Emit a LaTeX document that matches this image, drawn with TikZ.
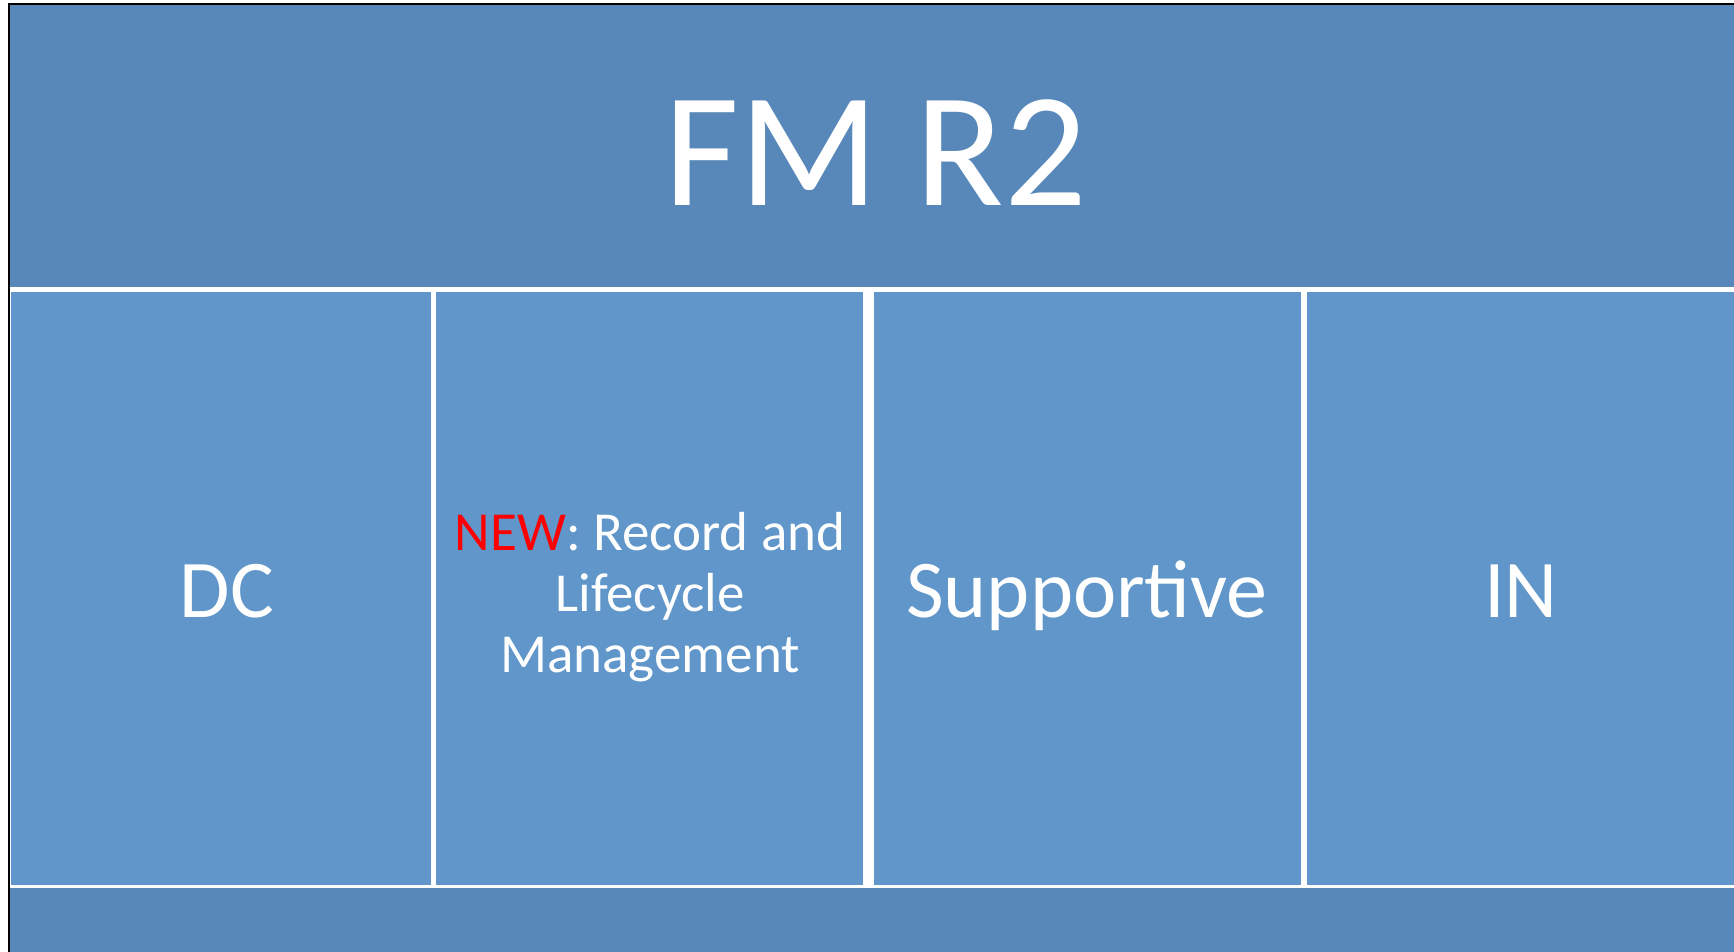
\documentclass[tikz,border=0pt]{standalone}
\usepackage{fontspec}
\setmainfont{Carlito}
\definecolor{topblue}{HTML}{5888B9}
\definecolor{cellblue}{HTML}{6096C9}
\definecolor{newred}{HTML}{FF0000}
\tikzset{
  cellbox/.style={fill=cellblue, draw=none, inner sep=0pt, anchor=north west},
  bigtext/.style={text=white, inner sep=0pt, font=\fontsize{82}{82}\selectfont},
}
\begin{document}
\begin{tikzpicture}[x=1pt,y=-1pt]
\useasboundingbox (0,0) rectangle (1734,952);
\fill[white] (0,0) rectangle (1734,952);
% outer frame
\fill[topblue] (10,5) rectangle (1734,952);
\fill[black] (8,3.5) rectangle (1734,5.5);
\fill[black] (8,3.5) rectangle (10,952);
% white grid band
\fill[white] (10,287) rectangle (1734,888);
% cells
\node[cellbox, minimum width=420pt, minimum height=593pt] (c1) at (11,292) {};
\node[cellbox, minimum width=427pt, minimum height=593pt] (c2) at (436,292) {};
\node[cellbox, minimum width=427pt, minimum height=593pt] (c3) at (874,292) {};
\node[cellbox, minimum width=427pt, minimum height=593pt] (c4) at (1307,292) {};
% title
\node[text=white, inner sep=0pt, anchor=base, font=\fontsize{163}{163}\selectfont] (title) at (876,205) {FM R2};
% labels
\node[bigtext, anchor=base] (dc) at (227,617) {DC};
\node[text=white, inner sep=0pt, anchor=center, align=center, font=\fontsize{55}{61}\selectfont] (rlm) at (650,597) {\textcolor{newred}{NEW}: Record and\\Lifecycle\\Management};
\node[bigtext, anchor=base] (sup) at (1087,617) {Supportive};
\node[bigtext, anchor=base] (in) at (1521,617) {IN};
\end{tikzpicture}
\end{document}
